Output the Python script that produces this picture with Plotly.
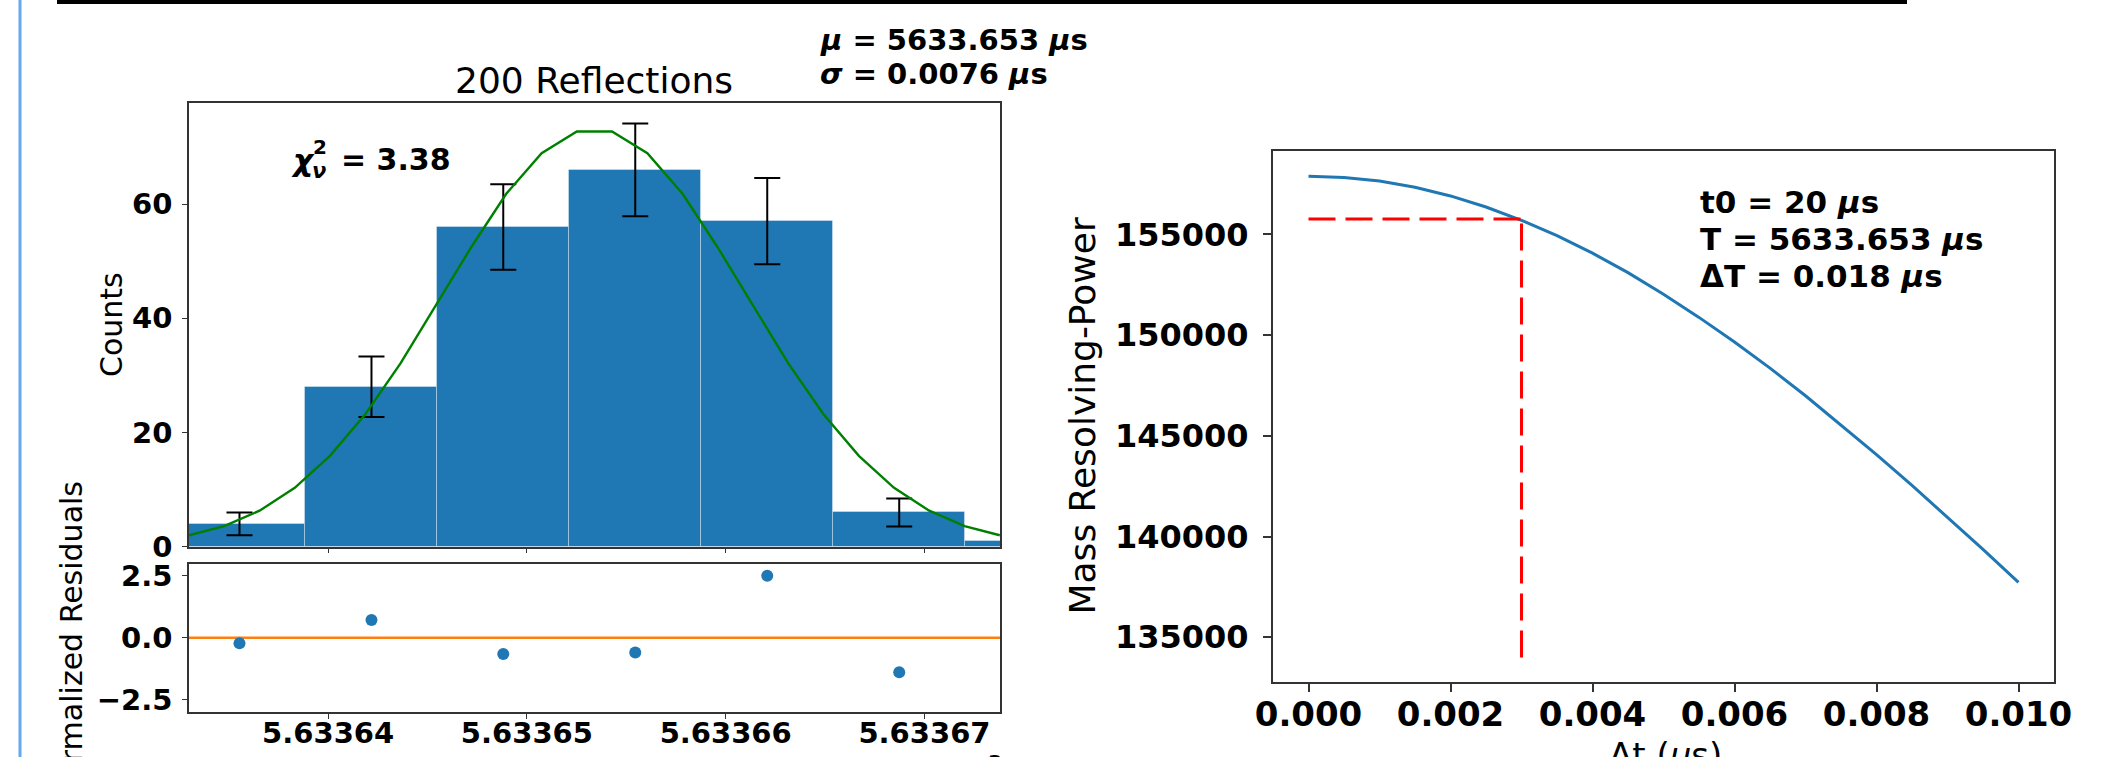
import plotly.graph_objects as go

W, H = 2111, 757

# ---------------- Left: histogram of reflections ----------------
bin_centers = [5633.63554, 5633.64218, 5633.64881, 5633.65545, 5633.66209, 5633.66873, 5633.67537]
counts = [4, 28, 56, 66, 57, 6, 1]
bin_width = 0.00664
err_centers = [5633.63554, 5633.64218, 5633.64881, 5633.65545, 5633.66209, 5633.66873]
err_counts = [4, 28, 56, 66, 57, 6]
count_errors = [2.0, 5.29, 7.48, 8.12, 7.55, 2.45]

fit_x = [5633.63300, 5633.63477, 5633.63655, 5633.63832, 5633.64009, 5633.64187,
         5633.64364, 5633.64541, 5633.64719, 5633.64896, 5633.65074, 5633.65251,
         5633.65428, 5633.65606, 5633.65783, 5633.65960, 5633.66138, 5633.66315,
         5633.66492, 5633.66670, 5633.66847, 5633.67024, 5633.67202, 5633.67379]
fit_y = [2.0, 3.6, 6.3, 10.3, 15.9, 23.2, 32.1, 42.2, 52.4, 61.8, 68.9, 72.7,
         72.7, 68.9, 61.8, 52.4, 42.2, 32.1, 23.2, 15.9, 10.3, 6.3, 3.6, 2.0]

resid_x = [5633.63554, 5633.64218, 5633.64881, 5633.65545, 5633.66209, 5633.66873]
resid_y = [-0.23, 0.71, -0.66, -0.60, 2.50, -1.40]

x_range = [5633.6330, 5633.6738]
x_tickvals = [5633.64, 5633.65, 5633.66, 5633.67]
x_ticktext = ["5.63364", "5.63365", "5.63366", "5.63367"]
count_ticks = [0, 20, 40, 60]
resid_ticks = [-2.5, 0.0, 2.5]
resid_ticktext = ["\u22122.5", "0.0", "2.5"]

# ---------------- Right: resolving power ----------------
dt = [0.0000, 0.0005, 0.0010, 0.0015, 0.0020, 0.0025, 0.0030, 0.0035, 0.0040, 0.0045,
      0.0050, 0.0055, 0.0060, 0.0065, 0.0070, 0.0075, 0.0080, 0.0085, 0.0090, 0.0095, 0.0100]
rp = [157890, 157830, 157650, 157340, 156910, 156360, 155700, 154940, 154070, 153100,
      152030, 150880, 149660, 148360, 146990, 145550, 144070, 142540, 140970, 139360, 137730]
dt_ticks = [0.000, 0.002, 0.004, 0.006, 0.008, 0.010]
dt_ticktext = ["0.000", "0.002", "0.004", "0.006", "0.008", "0.010"]
rp_ticks = [135000, 140000, 145000, 150000, 155000]
rp_ticktext = ["135000", "140000", "145000", "150000", "155000"]
marker_dt = [0.0, 0.003]
marker_rp = [155760, 155760]
marker_vx = [0.003, 0.003]
marker_vy = [134000, 155760]

C0 = "#1f77b4"
FONT = "DejaVu Sans"


def px_x(p):
    return p / W


def px_y(p):
    return 1 - p / H


fig = go.Figure()

fig.add_trace(go.Bar(x=bin_centers, y=counts, width=bin_width, xaxis="x", yaxis="y",
                     marker=dict(color=C0, line=dict(width=1, color="rgba(255,255,255,0.35)")),
                     showlegend=False))
fig.add_trace(go.Scatter(x=err_centers, y=err_counts, mode="markers", xaxis="x", yaxis="y",
                         marker=dict(size=1, opacity=0),
                         error_y=dict(type="data", array=count_errors, color="black",
                                      thickness=2, width=13),
                         showlegend=False))
fig.add_trace(go.Scatter(x=fit_x, y=fit_y, mode="lines", xaxis="x", yaxis="y",
                         line=dict(color="green", width=2.4), showlegend=False))
fig.add_trace(go.Scatter(x=resid_x, y=resid_y, mode="markers", xaxis="x2", yaxis="y2",
                         marker=dict(color=C0, size=12), showlegend=False))
fig.add_trace(go.Scatter(x=dt, y=rp, mode="lines", xaxis="x3", yaxis="y3",
                         line=dict(color=C0, width=3), showlegend=False))
fig.add_trace(go.Scatter(x=marker_dt, y=marker_rp, mode="lines", xaxis="x3", yaxis="y3",
                         line=dict(color="red", width=3, dash="27px,10px"), showlegend=False))
fig.add_trace(go.Scatter(x=marker_vx, y=marker_vy, mode="lines", xaxis="x3", yaxis="y3",
                         line=dict(color="red", width=3, dash="27px,10px"), showlegend=False))

left_dom = [px_x(189), px_x(1000)]
main_dom = [px_y(546.7), px_y(103)]
res_dom = [px_y(712), px_y(564)]
right_xdom = [px_x(1273), px_x(2054)]
right_ydom = [px_y(682), px_y(151)]

tick_l = dict(family=FONT, size=29, color="black", weight="bold")
tick_rx = dict(family=FONT, size=34, color="black", weight="bold")
tick_ry = dict(family=FONT, size=32, color="black", weight="bold")
ax_l = dict(showline=True, mirror=True, linecolor="#333", linewidth=1.5, ticks="outside",
            ticklen=5, tickwidth=1.3, tickcolor="#333", showgrid=False, zeroline=False,
            automargin=False)
ax_r = dict(showline=True, mirror=True, linecolor="#333", linewidth=2, ticks="outside",
            ticklen=8, tickwidth=2, tickcolor="#333", showgrid=False, zeroline=False,
            automargin=False)

fig.update_layout(
    width=W, height=H, margin=dict(l=0, r=0, t=0, b=0, pad=0, autoexpand=False),
    paper_bgcolor="white", plot_bgcolor="white", bargap=0, showlegend=False,
    xaxis=dict(domain=left_dom, range=x_range, anchor="y", tickvals=x_tickvals,
               showticklabels=False, **ax_l),
    yaxis=dict(domain=main_dom, range=[0, 77.7], anchor="x", tickvals=count_ticks,
               tickfont=tick_l, ticklabelstandoff=4, **ax_l),
    xaxis2=dict(domain=left_dom, range=x_range, anchor="y2", tickvals=x_tickvals,
                ticktext=x_ticktext, tickfont=tick_l, ticklabelstandoff=-11, **ax_l),
    yaxis2=dict(domain=res_dom, range=[-3.0, 2.97], anchor="x2", tickvals=resid_ticks,
                ticktext=resid_ticktext, tickfont=tick_l, ticklabelstandoff=4, **ax_l),
    xaxis3=dict(domain=right_xdom, range=[-0.0005, 0.0105], anchor="y3", tickvals=dt_ticks,
                ticktext=dt_ticktext, tickfont=tick_rx, ticklabelstandoff=-7, **ax_r),
    yaxis3=dict(domain=right_ydom, range=[132780, 159140], anchor="x3", tickvals=rp_ticks,
                ticktext=rp_ticktext, tickfont=tick_ry, ticklabelstandoff=8, **ax_r),
)

fig.add_shape(type="line", xref="x2 domain", yref="y2", x0=0, x1=1, y0=0, y1=0,
              line=dict(color="#ff7f0e", width=2.5), layer="below")

fig.add_shape(type="rect", xref="paper", yref="paper", x0=px_x(57), x1=px_x(1907),
              y0=px_y(4), y1=1, line=dict(width=0), fillcolor="black")
fig.add_shape(type="line", xref="paper", yref="paper", x0=px_x(20), x1=px_x(20),
              y0=0, y1=1, line=dict(color="#64a8f2", width=3))

ann = []


def add_text(text, x, y, size, xanchor="left", yanchor="middle", angle=0, bold=False):
    ann.append(dict(text=text, x=px_x(x), y=px_y(y), xref="paper", yref="paper",
                    xanchor=xanchor, yanchor=yanchor, showarrow=False, textangle=angle,
                    align="left",
                    font=dict(family=FONT, size=size, color="black",
                              weight="bold" if bold else "normal")))


add_text("200 Reflections", 594, 80, 36, xanchor="center")
add_text("<i>\u03bc</i> = 5633.653 <i>\u03bc</i>s", 818, 40, 29, bold=True)
add_text("<i>\u03c3</i> = 0.0076 <i>\u03bc</i>s", 818, 74, 29, bold=True)
add_text("<i>\u03c7</i>", 289, 160, 31, bold=True)
add_text("2", 311, 147, 20, bold=True)
add_text("<i>\u03bd</i>", 310, 171, 21, bold=True)
add_text("= 3.38", 339, 159, 30, bold=True)
add_text("t0 = 20 <i>\u03bc</i>s", 1698, 202, 31, bold=True)
add_text("T = 5633.653 <i>\u03bc</i>s", 1698, 239, 31, bold=True)
add_text("\u0394T = 0.018 <i>\u03bc</i>s", 1698, 276, 31, bold=True)
add_text("Counts", 111, 325, 30, xanchor="center", angle=-90)
add_text("Normalized Residuals", 71, 642, 30, xanchor="center", angle=-90)
add_text("Mass Resolving-Power", 1082, 416.5, 36, xanchor="center", angle=-90)
add_text("\u0394t (<i>\u03bc</i>s)", 1665, 733, 34, xanchor="center", yanchor="top")
add_text("3", 995, 748, 20, xanchor="center", yanchor="top", bold=True)
fig.update_layout(annotations=ann)

fix_js = (
    "document.documentElement.style.margin='0';document.documentElement.style.padding='0';"
    "document.body.style.margin='0';document.body.style.padding='0';"
    "document.documentElement.style.overflow='hidden';document.body.style.overflow='hidden';"
    "var gd=document.getElementById('{plot_id}');"
    "if(gd){gd.style.overflow='hidden';"
    "gd.querySelectorAll('.svg-container, svg.main-svg').forEach(function(e){e.style.overflow='hidden';});}"
)

fig.write_html(
    "out.html", include_plotlyjs=True, config={"displayModeBar": False},
    post_script="}); " + fix_js + " setTimeout(function(){ " + fix_js,
)
